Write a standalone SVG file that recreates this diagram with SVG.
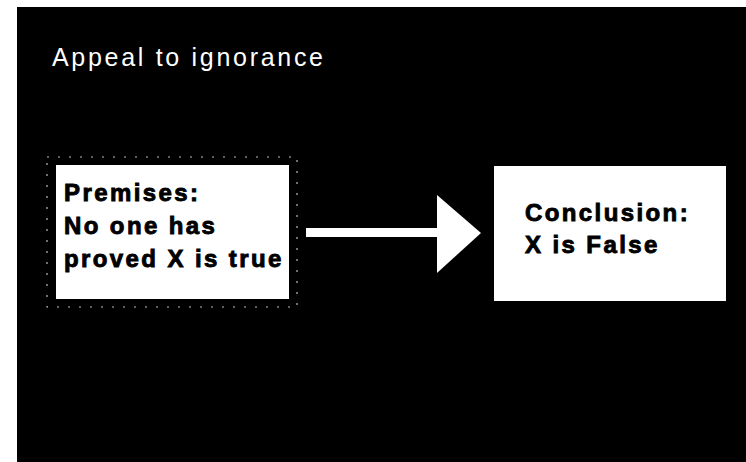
<svg xmlns="http://www.w3.org/2000/svg" width="746" height="462" viewBox="0 0 746 462">
  <style>
    .title { font-family: "Liberation Sans", Arial, sans-serif; font-size: 25px; fill: #ffffff; letter-spacing: 2.7px; }
    .box { fill: #ffffff; }
    .label { font-family: "Liberation Sans", Arial, sans-serif; font-size: 24px; font-weight: bold; fill: #000000; stroke: #000000; stroke-width: 0.9px; letter-spacing: 2.4px; }
    .frame { fill: none; stroke: #bbbbbb; stroke-width: 1.2; stroke-dasharray: 2 9; }
    .arrow { fill: #ffffff; }
  </style>
  <rect x="0" y="0" width="746" height="462" fill="#ffffff"/>
  <rect x="17" y="7" width="729" height="455" fill="#000000"/>
  <text class="title" x="52" y="66">Appeal to ignorance</text>

  <g id="premises">
    <rect class="frame" x="47" y="157" width="250" height="150"/>
    <rect class="box" x="56" y="165" width="233" height="134"/>
    <text class="label" x="64" y="201">Premises:</text>
    <text class="label" x="64" y="234">No one has</text>
    <text class="label" x="64" y="267">proved X is true</text>
  </g>

  <g id="conclusion">
    <rect class="box" x="494" y="166" width="232" height="135"/>
    <text class="label" x="525" y="221">Conclusion:</text>
    <text class="label" x="525" y="253">X is False</text>
  </g>

  <g id="connectors">
    <rect class="arrow" x="306" y="228" width="134" height="9"/>
    <polygon class="arrow" points="437,195 481,233 437,273"/>
  </g>
</svg>
